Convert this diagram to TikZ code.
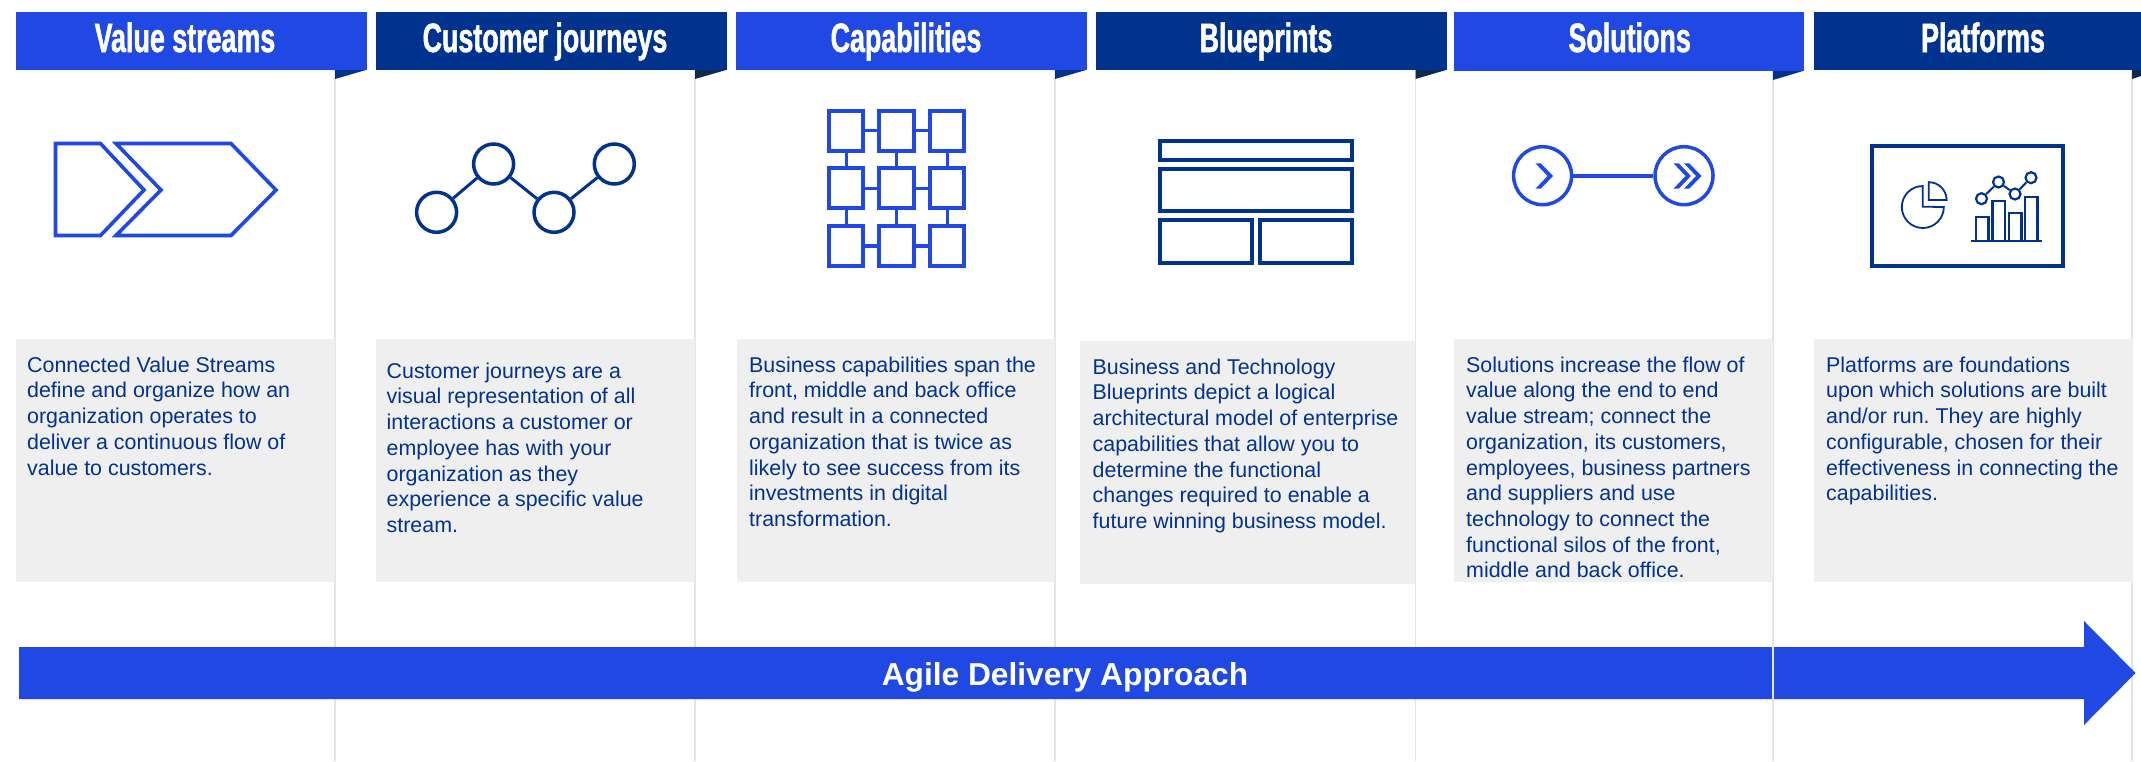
\documentclass[tikz,border=0pt]{standalone}
\usepackage{fontspec}
\setmainfont{Liberation Sans}
\newfontfamily\headfont[FakeStretch=0.655,FakeBold=1.2]{Liberation Sans}
\frenchspacing
\definecolor{brightb}{HTML}{1F49E2}
\definecolor{darkb}{HTML}{00338D}
\definecolor{navy}{HTML}{12284C}
\definecolor{boxgrey}{HTML}{EFEFEF}
\definecolor{rulegrey}{HTML}{E4E4E4}
\tikzset{
  headbox/.style={rectangle,draw=none,inner sep=0pt,anchor=north west,minimum height=58pt},
  headtext/.style={text=white,inner sep=0pt,anchor=base,font=\headfont\bfseries\fontsize{41}{43}\selectfont},
  greybox/.style={rectangle,fill=boxgrey,draw=none,inner sep=0pt,anchor=north west,minimum height=243pt},
  bodytext/.style={text=darkb,inner sep=0pt,anchor=north west,align=left,font=\fontsize{21.4}{25.7}\selectfont\frenchspacing},
  colrule/.style={draw=rulegrey,line width=1.2pt},
  ringd/.style={circle,draw=darkb,line width=3.5pt,inner sep=0pt,minimum size=40pt},
  cell/.style={rectangle,draw=brightb,line width=4pt,inner sep=0pt,minimum width=34.5pt,minimum height=40pt},
  ringb/.style={circle,draw=brightb,line width=3.5pt,inner sep=0pt,minimum size=58pt},
  dot/.style={circle,draw=darkb,fill=white,line width=2.2pt,inner sep=0pt,minimum size=11pt},
}
\newcommand{\firstline}{\rule{0pt}{20pt}}
\begin{document}
\begin{tikzpicture}[x=1pt,y=-1pt]
\useasboundingbox (0,0) rectangle (2141,761);
\fill[white] (0,0) rectangle (2141,761);
% column rules
\foreach \cx in {335,695,1055,1415.5,1773,2132}{\draw[colrule] (\cx,70) -- (\cx,761);}
% headers
\node[headbox,fill=brightb,minimum width=351pt] (h1) at (16,12) {};
\node[headbox,fill=darkb,minimum width=351pt] (h2) at (376,12) {};
\node[headbox,fill=brightb,minimum width=351pt] (h3) at (736,12) {};
\node[headbox,fill=darkb,minimum width=351pt] (h4) at (1096,12) {};
\node[headbox,fill=brightb,minimum width=350pt,minimum height=59pt] (h5) at (1454,12) {};
\node[headbox,fill=darkb,minimum width=327.5pt] (h6) at (1813.5,12) {};
\node[headtext] (l1) at (185,52) {Value streams};
\node[headtext] (l2) at (545,52) {Customer journeys};
\node[headtext] (l3) at (906,52) {Capabilities};
\node[headtext] (l4) at (1266,52) {Blueprints};
\node[headtext] (l5) at (1629.6,52) {Solutions};
\node[headtext] (l6) at (1983,52) {Platforms};
% folds
\fill[darkb] (335,70) -- (335,79) -- (366,70) -- cycle;
\fill[navy] (695,70) -- (695,79) -- (726,70) -- cycle;
\fill[darkb] (1055,70) -- (1055,79) -- (1086,70) -- cycle;
\fill[navy] (1415.5,70) -- (1415.5,79) -- (1446,70) -- cycle;
\fill[darkb] (1773,71) -- (1773,80) -- (1803,71) -- cycle;
\fill[navy] (2132,70) -- (2132,79) -- (2141,76) -- (2141,70) -- cycle;
% grey boxes
\node[greybox,minimum width=318.5pt] (b1) at (16,339) {};
\node[greybox,minimum width=319pt] (b2) at (376,339) {};
\node[greybox,minimum width=318pt] (b3) at (737,339) {};
\node[greybox,minimum width=335pt] (b4) at (1080,341) {};
\node[greybox,minimum width=319pt] (b5) at (1454,339) {};
\node[greybox,minimum width=319pt] (b6) at (1814,339) {};
% body text
\node[bodytext] (t1) at (27,352) {\firstline Connected Value Streams\\define and organize how an\\organization operates to\\deliver a continuous flow of\\value to customers.};
\node[bodytext] (t2) at (386.5,358) {\firstline Customer journeys are a\\visual representation of all\\interactions a customer or\\employee has with your\\organization as they\\experience a specific value\\stream.};
\node[bodytext] (t3) at (749,352) {\firstline Business capabilities span the\\front, middle and back office\\and result in a connected\\organization that is twice as\\likely to see success from its\\investments in digital\\transformation.};
\node[bodytext] (t4) at (1092.5,354) {\firstline Business and Technology\\Blueprints depict a logical\\architectural model of enterprise\\capabilities that allow you to\\determine the functional\\changes required to enable a\\future winning business model.};
\node[bodytext] (t5) at (1466,352) {\firstline Solutions increase the flow of\\value along the end to end\\value stream; connect the\\organization, its customers,\\employees, business partners\\and suppliers and use\\technology to connect the\\functional silos of the front,\\middle and back office.};
\node[bodytext] (t6) at (1826,352) {\firstline Platforms are foundations\\upon which solutions are built\\and/or run. They are highly\\configurable, chosen for their\\effectiveness in connecting the\\capabilities.};
% agile arrow
\fill[brightb] (19,647) -- (2084,647) -- (2084,621) -- (2135.6,673) -- (2084,725) -- (2084,699) -- (19,699) -- cycle;
\draw[draw=rulegrey,line width=1.2pt] (1773,647) -- (1773,699);
\node[text=white,inner sep=0pt,font=\bfseries\fontsize{31.7}{36}\selectfont] (agile) at (1065,677) {Agile Delivery Approach};
% icon 1: value stream chevrons
\draw[brightb,line width=3.6pt,miter limit=4] (55.5,143.5) -- (100.5,143.5) -- (144,190) -- (100.5,235.5) -- (55.5,235.5) -- cycle;
\draw[brightb,line width=3.6pt,miter limit=4] (116,143.5) -- (231,143.5) -- (276,190) -- (231,235.5) -- (116,235.5) -- (161,190) -- cycle;
% icon 2: journey
\node[ringd] (c1) at (436.6,212.3) {};
\node[ringd] (c2) at (493.6,164) {};
\node[ringd] (c3) at (554,212.3) {};
\node[ringd] (c4) at (614.3,164) {};
\draw[darkb,line width=3pt] (c1) -- (c2);
\draw[darkb,line width=3pt] (c2) -- (c3);
\draw[darkb,line width=3pt] (c3) -- (c4);
% icon 3: capability grid
\foreach \n/\cx/\cy in {a/846.2/130.7,b/896.7/130.7,c/947.2/130.7,d/846.2/188.3,e/896.7/188.3,f/947.2/188.3,g/846.2/245.8,h/896.7/245.8,i/947.2/245.8}{
  \node[cell] (\n) at (\cx,\cy) {};
}
\foreach \p/\q in {a/b,b/c,d/e,e/f,g/h,h/i,a/d,b/e,c/f,d/g,e/h,f/i}{
  \draw[brightb,line width=3.4pt] (\p) -- (\q);
}
% icon 4: blueprints
\draw[darkb,line width=4pt] (1160,141.3) rectangle (1351.6,160.3);
\draw[darkb,line width=4pt] (1160,168.7) rectangle (1351.6,211.3);
\draw[darkb,line width=4pt] (1160,220) rectangle (1252,263);
\draw[darkb,line width=4pt] (1260,220) rectangle (1352,263);
% icon 5: solutions
\node[ringb] (s1) at (1542.6,175.7) {};
\node[ringb] (s2) at (1684,175.7) {};
\draw[brightb,line width=4pt] (s1) -- (s2);
\fill[brightb] (1535.5,163.3) -- (1540.7,163.3) -- (1553.1,176) -- (1540.7,188.7) -- (1535.5,188.7) -- (1547.5,176) -- cycle;
\fill[brightb] (1673.5,163.3) -- (1678.7,163.3) -- (1690.9,176) -- (1678.7,188.7) -- (1673.5,188.7) -- (1685.5,176) -- cycle;
\fill[brightb] (1684,163.3) -- (1689.2,163.3) -- (1701.5,176) -- (1689.2,188.7) -- (1684,188.7) -- (1696,176) -- cycle;
% icon 6: platforms
\draw[darkb,line width=4pt] (1872,146) rectangle (2063,265.7);
\draw[darkb,line width=1.8pt] (1922.8,186) arc[start angle=90,end angle=360,radius=21pt] -- (1922.8,206.7) -- cycle;
\draw[darkb,line width=1.8pt] (1946.6,200) arc[start angle=0,end angle=90,radius=17.8pt] -- (1928.7,200) -- cycle;
\draw[darkb,line width=2.2pt] (1975.6,241) -- (1975.6,217.3) -- (1988.4,217.3) -- (1988.4,241);
\draw[darkb,line width=2.2pt] (1992.5,241) -- (1992.5,201.3) -- (2005,201.3) -- (2005,241);
\draw[darkb,line width=2.2pt] (2008.6,241) -- (2008.6,212.7) -- (2021.5,212.7) -- (2021.5,241);
\draw[darkb,line width=2.2pt] (2025.2,241) -- (2025.2,196.7) -- (2037.5,196.7) -- (2037.5,241);
\draw[darkb,line width=2.4pt] (1971,241) -- (2042,241);
\node[dot] (d1) at (1981.5,198.7) {};
\node[dot] (d2) at (1998.5,182) {};
\node[dot] (d3) at (2015,194) {};
\node[dot] (d4) at (2031,177.7) {};
\draw[darkb,line width=2pt] (d1) -- (d2);
\draw[darkb,line width=2pt] (d2) -- (d3);
\draw[darkb,line width=2pt] (d3) -- (d4);
\end{tikzpicture}
\end{document}
